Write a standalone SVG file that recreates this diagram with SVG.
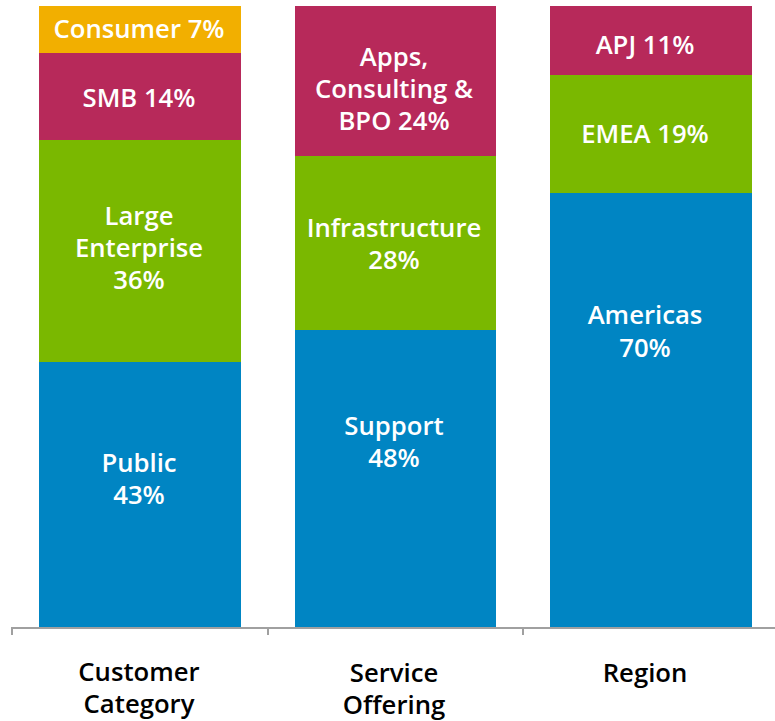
<svg xmlns="http://www.w3.org/2000/svg" width="775" height="721" viewBox="0 0 775 721">
<style>
.lbl{font-family:"Open Sans","Liberation Sans",sans-serif;font-weight:600;font-size:25.7px;fill:#fff;text-anchor:middle}
.cat{font-family:"Open Sans","Liberation Sans",sans-serif;font-weight:600;font-size:25.7px;fill:#000;text-anchor:middle}
.o{fill:#F2AF00}.m{fill:#B7295A}.g{fill:#7AB800}.b{fill:#0085C3}
.ax{stroke:#A0A0A0;stroke-width:2;fill:none}
</style>
<rect width="775" height="721" fill="#fff"/>
<g id="customer">
<rect class="o" x="39" y="6" width="202" height="47"/>
<rect class="m" x="39" y="53" width="202" height="87"/>
<rect class="g" x="39" y="140" width="202" height="222"/>
<rect class="b" x="39" y="362" width="202" height="266"/>
<text class="lbl" x="139" y="38">Consumer 7%</text>
<text class="lbl" x="139" y="107">SMB 14%</text>
<text class="lbl" x="139" y="225">Large<tspan x="139" dy="32">Enterprise</tspan><tspan x="139" dy="32">36%</tspan></text>
<text class="lbl" x="139" y="472">Public<tspan x="139" dy="32">43%</tspan></text>
</g>
<g id="service">
<rect class="m" x="295" y="6" width="201" height="150"/>
<rect class="g" x="295" y="156" width="201" height="174"/>
<rect class="b" x="295" y="330" width="201" height="298"/>
<text class="lbl" x="394" y="66">Apps,<tspan x="394" dy="32">Consulting &amp;</tspan><tspan x="394" dy="32">BPO 24%</tspan></text>
<text class="lbl" x="394" y="236.5">Infrastructure<tspan x="394" dy="32">28%</tspan></text>
<text class="lbl" x="394" y="435">Support<tspan x="394" dy="32">48%</tspan></text>
</g>
<g id="region">
<rect class="m" x="550" y="6" width="202" height="69"/>
<rect class="g" x="550" y="75" width="202" height="118"/>
<rect class="b" x="550" y="193" width="202" height="435"/>
<text class="lbl" x="645" y="54">APJ 11%</text>
<text class="lbl" x="645" y="143">EMEA 19%</text>
<text class="lbl" x="645" y="324">Americas<tspan x="645" dy="33">70%</tspan></text>
</g>
<g id="axis">
<path class="ax" d="M12 628H775M12 627V635M268 627V635M523 627V635"/>
<text class="cat" x="139" y="681">Customer<tspan x="139" dy="32">Category</tspan></text>
<text class="cat" x="394" y="681.5">Service<tspan x="394" dy="32">Offering</tspan></text>
<text class="cat" x="645" y="682">Region</text>
</g>
</svg>
